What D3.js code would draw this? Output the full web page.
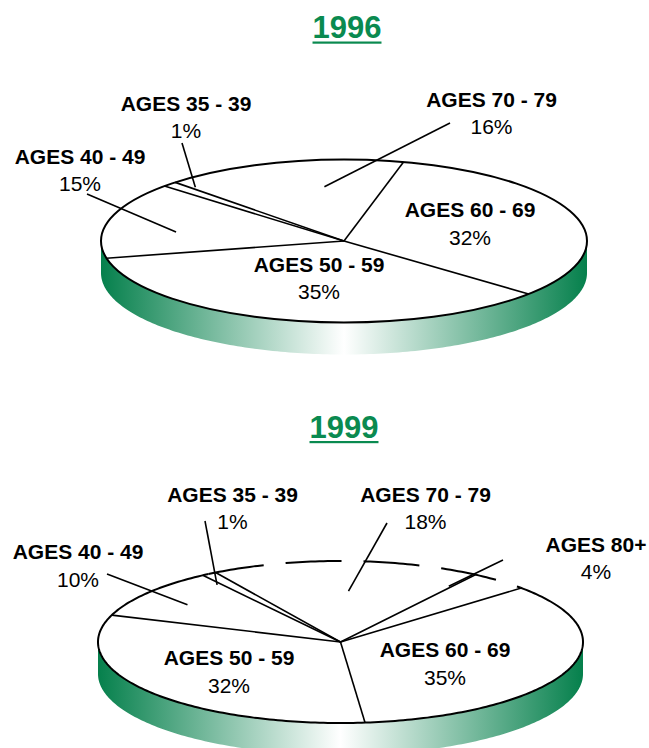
<!DOCTYPE html>
<html lang="en">
<head>
<meta charset="UTF-8">
<title>Age distribution 1996 / 1999</title>
<script src="https://d3js.org/d3.v7.min.js"></script>
<style>
    body { margin: 0; background: #fff; }
    svg text { font-family: "Liberation Sans", Arial, sans-serif; fill: #000; }
</style>
</head>
<body>
<svg width="649" height="748"></svg>
<script>
    // data (percent labels)
    const years = ["1996", "1999"];
    const categories1996 = ["AGES 70 - 79", "AGES 60 - 69", "AGES 50 - 59", "AGES 40 - 49", "AGES 35 - 39"];
    const values1996 = [16, 32, 35, 15, 1];
    const categories1999 = ["AGES 70 - 79", "AGES 80+", "AGES 60 - 69", "AGES 50 - 59", "AGES 40 - 49", "AGES 35 - 39"];
    const values1999 = [18, 4, 35, 32, 10, 1];

    // layout for each pie (ellipse, label spots, leader lines)
    const layouts = [
        {
            cx: 344, cy: 241, rx: 243, ry: 81.5, depth: 32, start: -44, titleX: 347, titleY: 38,
            labels: {
                "AGES 70 - 79": { x: 491.5, y: 106.5, leader: [450, 123], r: 0.67, nudge: 8 },
                "AGES 60 - 69": { x: 470, y: 217 },
                "AGES 50 - 59": { x: 319, y: 271.5 },
                "AGES 40 - 49": { x: 80, y: 163.5, leader: [87, 194], r: 0.7, nudge: -6 },
                "AGES 35 - 39": { x: 186, y: 110.5, leader: [182, 143], r: 0.9, nudge: 3 }
            },
            dashed: null
        },
        {
            cx: 340.5, cy: 642, rx: 242.5, ry: 81, depth: 32, start: -31, titleX: 344, titleY: 437.5,
            labels: {
                "AGES 70 - 79": { x: 425.5, y: 501.5, leader: [387, 523], r: 0.63, nudge: 1.6 },
                "AGES 80+": { x: 596, y: 551.5, leader: [503, 560], r: 0.82, nudge: -8 },
                "AGES 60 - 69": { x: 445, y: 657 },
                "AGES 50 - 59": { x: 229, y: 665 },
                "AGES 40 - 49": { x: 78, y: 559, leader: [107, 574], r: 0.78, nudge: -1.4 },
                "AGES 35 - 39": { x: 232.5, y: 501.5, leader: [205, 521], r: 0.87, nudge: -3 }
            },
            // back part of the rim drawn broken, as in the original
            dashed: [123, 42]
        }
    ];

    const data = [
        { cats: categories1996, vals: values1996 },
        { cats: categories1999, vals: values1999 }
    ];

    const svg = d3.select("svg");
    const defs = svg.append("defs");
    const green = "#05804c";
    const rad = Math.PI / 180;

    years.forEach((year, i) => {
        const L = layouts[i];
        const D = data[i];
        const g = svg.append("g");

        // scales map unit circle -> flattened ellipse
        const xScale = d3.scaleLinear().domain([-1, 1]).range([L.cx - L.rx, L.cx + L.rx]);
        const yScale = d3.scaleLinear().domain([-1, 1]).range([L.cy + L.ry, L.cy - L.ry]);
        const proj = (a, r) => [xScale(r * Math.sin(a)), yScale(r * Math.cos(a))];

        // side gradient
        const gradId = "side" + year;
        const grad = defs.append("linearGradient")
            .attr("id", gradId)
            .attr("gradientUnits", "userSpaceOnUse")
            .attr("x1", L.cx - L.rx).attr("x2", L.cx + L.rx)
            .attr("y1", 0).attr("y2", 0);
        grad.append("stop").attr("offset", 0).attr("stop-color", green);
        grad.append("stop").attr("offset", 0.5).attr("stop-color", "#ffffff");
        grad.append("stop").attr("offset", 1).attr("stop-color", green);

        // side band (front half)
        const steps = d3.range(0, 181).map(k => (90 + k) * rad);
        const topEdge = steps.map(a => proj(a, 1));
        const botEdge = steps.slice().reverse().map(a => {
            const p = proj(a, 1);
            return [p[0], p[1] + L.depth];
        });
        g.append("path")
            .attr("d", d3.line()(topEdge.concat(botEdge)) + "Z")
            .attr("fill", `url(#${gradId})`);

        // top surface
        g.append("ellipse")
            .attr("cx", L.cx).attr("cy", L.cy)
            .attr("rx", L.rx).attr("ry", L.ry)
            .attr("fill", "#fff")
            .attr("stroke", L.dashed ? "none" : "#000")
            .attr("stroke-width", 2);

        if (L.dashed) {
            // rim in pieces: solid everywhere except the broken back part
            const m0 = L.dashed[0], m1 = L.dashed[1];
            const solidPts = d3.range(m0, m1 + 361, 1).map(m => proj((90 - m) * rad, 1));
            g.append("path")
                .attr("d", d3.line()(solidPts))
                .attr("fill", "none").attr("stroke", "#000").attr("stroke-width", 2);
            const dashPts = d3.range(m0, m1 - 1, -1).map(m => proj((90 - m) * rad, 1));
            g.append("path")
                .attr("d", d3.line()(dashPts))
                .attr("fill", "none").attr("stroke", "#000").attr("stroke-width", 2)
                .attr("stroke-dasharray", "56 22");
        }

        // slices
        const pie = d3.pie().sort(null)
            .startAngle(L.start * rad)
            .endAngle(L.start * rad + 2 * Math.PI);
        const arcs = pie(D.vals);

        g.selectAll(".edge")
            .data(arcs)
            .enter().append("line")
            .attr("class", "edge")
            .attr("x1", L.cx).attr("y1", L.cy)
            .attr("x2", d => proj(d.startAngle, 1)[0])
            .attr("y2", d => proj(d.startAngle, 1)[1])
            .attr("stroke", "#000")
            .attr("stroke-width", 1.6);

        // labels + leader lines
        arcs.forEach((d, k) => {
            const name = D.cats[k];
            const lab = L.labels[name];
            if (lab.leader) {
                const mid = (d.startAngle + d.endAngle) / 2 + lab.nudge * rad;
                const p = proj(mid, lab.r);
                g.append("line")
                    .attr("x1", lab.leader[0]).attr("y1", lab.leader[1])
                    .attr("x2", p[0]).attr("y2", p[1])
                    .attr("stroke", "#000").attr("stroke-width", 1.6);
            }
            g.append("text")
                .attr("x", lab.x).attr("y", lab.y)
                .attr("text-anchor", "middle")
                .attr("font-size", 21)
                .attr("font-weight", "bold")
                .text(name);
            g.append("text")
                .attr("x", lab.x).attr("y", lab.y + 27.5)
                .attr("text-anchor", "middle")
                .attr("font-size", 21)
                .text(D.vals[k] + "%");
        });

        // title, underlined
        const title = g.append("text")
            .attr("x", L.titleX).attr("y", L.titleY)
            .attr("text-anchor", "middle")
            .attr("font-size", 31)
            .attr("font-weight", "bold")
            .style("fill", "#0a8a50")
            .text(year);
        const bb = title.node().getBBox();
        g.append("rect")
            .attr("x", bb.x).attr("y", L.titleY + 3.5)
            .attr("width", bb.width).attr("height", 2.2)
            .attr("fill", "#0a8a50");
    });
</script>
</body>
</html>
